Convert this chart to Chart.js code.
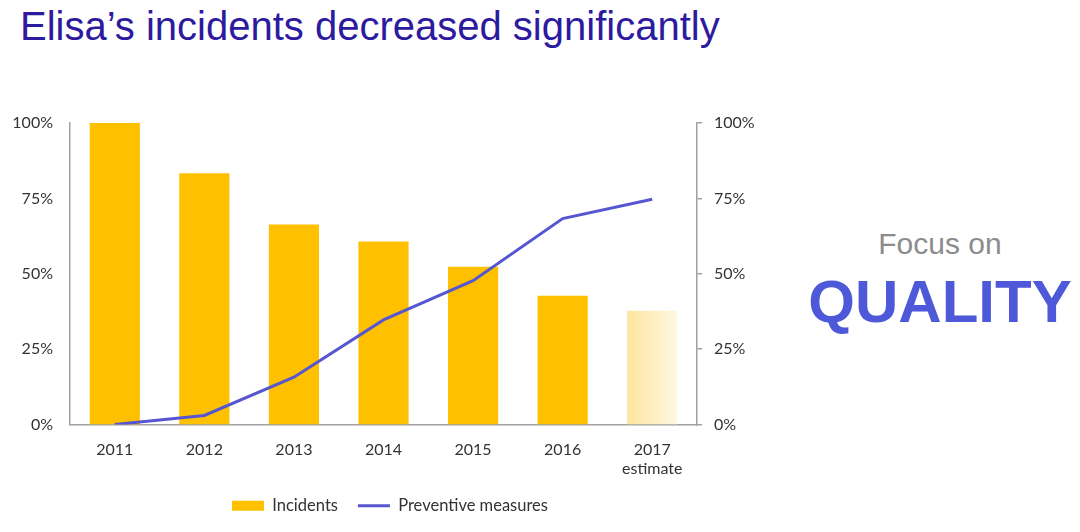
<!DOCTYPE html>
<html>
<head>
<meta charset="utf-8">
<script src="https://cdn.jsdelivr.net/npm/chart.js@4.4.0/dist/chart.umd.min.js"></script>
<style>
  html, body { margin: 0; padding: 0; background: #fff; }
  #page { position: relative; width: 1080px; height: 532px; overflow: hidden; }
  #title { position: absolute; left: 20px; top: 4px; font-family: "Liberation Sans", Arial, sans-serif;
           font-size: 40px; color: #2d1a9f; white-space: nowrap; }
  #chartBox { position: absolute; left: 0; top: 0; width: 780px; height: 532px; }
  #focus { position: absolute; left: 800px; width: 280px; top: 227px; text-align: center;
           font-family: "Liberation Sans", Arial, sans-serif; font-size: 30px; color: #8c8c8c; }
  #quality { position: absolute; left: 800px; width: 280px; top: 267px; text-align: center;
             font-family: "Liberation Sans", Arial, sans-serif; font-weight: bold; font-size: 60px; color: #4d59d8; }
</style>
</head>
<body>
<div id="page">
  <div id="title">Elisa’s incidents decreased significantly</div>
  <div id="chartBox"><canvas id="chart"></canvas></div>
  <div id="focus">Focus on</div>
  <div id="quality">QUALITY</div>
</div>
<script>
const years = ['2011', '2012', '2013', '2014', '2015', '2016', ['2017', 'estimate']];
const incidents = [100, 83.3, 66.3, 60.7, 52.3, 42.7, 37.7];
const preventive = [0, 3, 15.7, 34.7, 47.7, 68.3, 74.7];
const pctTicks = [0, 25, 50, 75, 100];

const yellow = '#FFC000';
const lineBlue = '#5656D0';
const axisGray = '#a0a0a0';
const textColor = '#333333';
const tickFont = { family: 'Lato, "Open Sans", sans-serif', size: 16 };
const legendFont = { family: 'Lato, "Open Sans", sans-serif', size: 16.5 };

function barColor(context) {
  if (context.dataIndex !== incidents.length - 1) return yellow;
  const chart = context.chart;
  if (!chart.chartArea || !chart.scales.x) return '#fde9a8';
  const cx = chart.scales.x.getPixelForValue(context.dataIndex);
  const g = chart.ctx.createLinearGradient(cx - 25, 0, cx + 25, 0);
  g.addColorStop(0, '#fde69e');
  g.addColorStop(1, '#fff8e2');
  return g;
}

const ctx = document.getElementById('chart').getContext('2d');
new Chart(ctx, {
  type: 'bar',
  data: {
    labels: years,
    datasets: [
      {
        type: 'line',
        label: 'Preventive measures',
        data: preventive,
        yAxisID: 'y1',
        borderColor: lineBlue,
        backgroundColor: lineBlue,
        borderWidth: 3,
        pointRadius: 0,
        tension: 0,
        order: 0
      },
      {
        type: 'bar',
        label: 'Incidents',
        data: incidents,
        yAxisID: 'y',
        backgroundColor: barColor,
        categoryPercentage: 1,
        barPercentage: 0.56,
        order: 1
      }
    ]
  },
  options: {
    responsive: true,
    maintainAspectRatio: false,
    animation: false,
    layout: { padding: { top: 123, bottom: 8, left: 0, right: 0 } },
    plugins: {
      tooltip: { enabled: false },
      legend: {
        position: 'bottom',
        reverse: true,
        labels: {
          usePointStyle: true,
          pointStyleWidth: 32,
          boxHeight: 10,
          color: textColor,
          font: legendFont,
          padding: 20,
          generateLabels(chart) {
            const items = Chart.defaults.plugins.legend.labels.generateLabels(chart);
            items.forEach(it => {
              const ds = chart.data.datasets[it.datasetIndex];
              it.pointStyle = ds.type === 'line' ? 'line' : 'rect';
              if (ds.type !== 'line') { it.fillStyle = yellow; it.strokeStyle = yellow; it.lineWidth = 0; }
              else { it.strokeStyle = lineBlue; it.lineWidth = 3; }
            });
            return items;
          }
        }
      }
    },
    scales: {
      x: {
        grid: { display: false },
        border: { display: true, color: axisGray, width: 1.5 },
        ticks: { color: textColor, font: tickFont, padding: 8, maxRotation: 0 },
        afterFit(scale) { scale.height = 53; }
      },
      y: {
        position: 'left',
        min: 0, max: 100,
        afterBuildTicks(scale) { scale.ticks = pctTicks.map(v => ({ value: v })); },
        grid: { display: false, drawTicks: false },
        border: { display: true, color: axisGray, width: 1.5 },
        ticks: { color: textColor, font: tickFont, padding: 17, callback: v => v + '%' },
        afterFit(scale) { scale.width = 70; }
      },
      y1: {
        position: 'right',
        min: 0, max: 100,
        afterBuildTicks(scale) { scale.ticks = pctTicks.map(v => ({ value: v })); },
        grid: { drawOnChartArea: false, drawTicks: true, tickLength: 5, color: axisGray, lineWidth: 1.5 },
        border: { display: true, color: axisGray, width: 1.5 },
        ticks: { color: textColor, font: tickFont, padding: 12, callback: v => v + '%' },
        afterFit(scale) { scale.width = 83; }
      }
    }
  }
});
</script>
</body>
</html>
